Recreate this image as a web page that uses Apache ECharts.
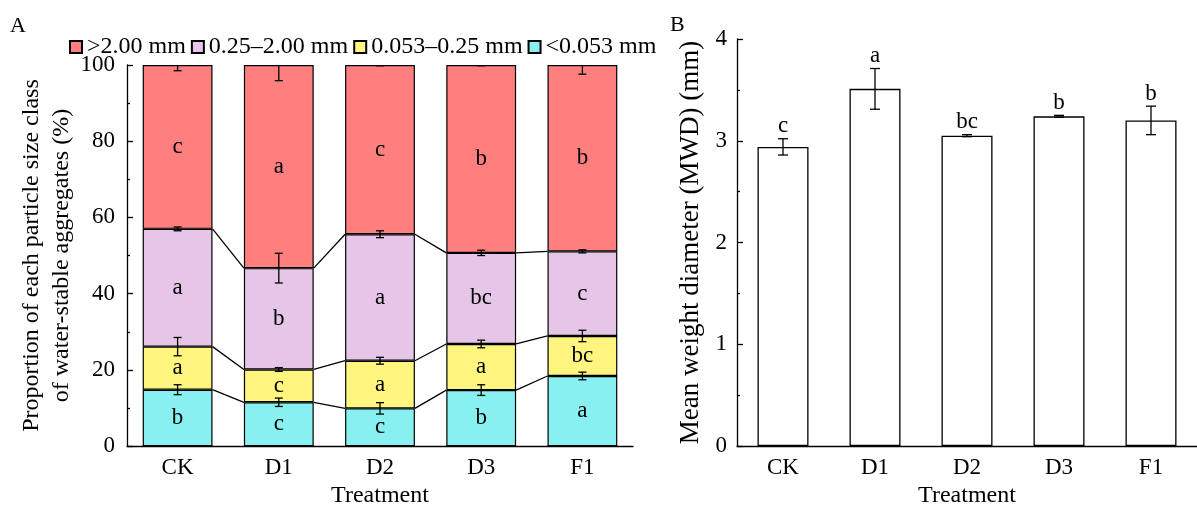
<!DOCTYPE html>
<html><head><meta charset="utf-8">
<script src="https://cdn.jsdelivr.net/npm/echarts@6/dist/echarts.min.js"></script>
<style>html,body{margin:0;padding:0;background:#fff}#c{width:1197px;height:513px}</style>
</head><body><div id="c"></div>
<script>
// ---------- data ----------
const categories = ['CK', 'D1', 'D2', 'D3', 'F1'];
const seriesNames = ['>2.00 mm', '0.25\u20132.00 mm', '0.053\u20130.25 mm', '<0.053 mm'];

// stacked proportions (%), bottom to top
const silt      = [14.8, 11.5,  9.9, 14.7, 18.4];   // <0.053 mm
const fine      = [11.3,  8.6, 12.5, 12.1, 10.5];   // 0.053–0.25 mm
const smallMac  = [30.9, 26.6, 33.2, 23.9, 22.2];   // 0.25–2.00 mm
const largeMac  = [43.0, 53.3, 44.4, 49.3, 48.9];   // >2.00 mm

const siltErr     = [1.3, 1.1, 1.5, 1.4, 1.0];
const fineErr     = [2.4, 0.5, 0.9, 1.0, 1.5];
const smallMacErr = [0.5, 3.9, 0.9, 0.7, 0.4];
const largeMacErr = [1.5, 4.1, 0.2, 0.2, 2.4];

const siltLetters     = ['b', 'c', 'c', 'b', 'a'];
const fineLetters     = ['a', 'c', 'a', 'a', 'bc'];
const smallMacLetters = ['a', 'b', 'a', 'bc', 'c'];
const largeMacLetters = ['c', 'a', 'c', 'b', 'b'];

// panel B
const mwd        = [2.94, 3.51, 3.05, 3.24, 3.20];
const mwdErr     = [0.08, 0.20, 0.01, 0.01, 0.14];
const mwdLetters = ['c', 'a', 'bc', 'b', 'b'];

const yTicksA = { min: 0, max: 100, interval: 20 };
const yTicksB = { min: 0, max: 4, interval: 1 };

// ---------- styling ----------
const FONT = 'Liberation Serif';
const FS = 23;
const colors = { large: '#FF7F7F', small: '#E6C6E8', fine: '#FFF57F', silt: '#88F0F0' };
const BLACK = '#000';
const BAR_RATIO = 0.69;

// cumulative tops
const cum1 = silt.map((v, i) => v);
const cum2 = silt.map((v, i) => v + fine[i]);
const cum3 = silt.map((v, i) => v + fine[i] + smallMac[i]);
const cum4 = silt.map((v, i) => v + fine[i] + smallMac[i] + largeMac[i]);

const errDataA = [];
[[cum1, siltErr], [cum2, fineErr], [cum3, smallMacErr], [cum4, largeMacErr]].forEach(([c, e]) => {
  c.forEach((v, i) => errDataA.push([i, v, e[i]]));
});

const linkData = [];
for (let i = 0; i < categories.length - 1; i++) {
  linkData.push([i, cum1[i], cum1[i + 1], cum2[i], cum2[i + 1], cum3[i], cum3[i + 1]]);
}

function errRender(capW) {
  return function (params, api) {
    const x = api.value(0), y = api.value(1), e = api.value(2);
    const top = api.coord([x, y + e]), bot = api.coord([x, y - e]);
    const cx = top[0];
    const st = { stroke: BLACK, lineWidth: 1.3 };
    return { type: 'group', children: [
      { type: 'line', shape: { x1: cx, y1: top[1], x2: cx, y2: bot[1] }, style: st },
      { type: 'line', shape: { x1: cx - capW, y1: top[1], x2: cx + capW, y2: top[1] }, style: st },
      { type: 'line', shape: { x1: cx - capW, y1: bot[1], x2: cx + capW, y2: bot[1] }, style: st }
    ]};
  };
}

function linkRender(params, api) {
  const i = api.value(0);
  const band = api.size([1, 0])[0];
  const hw = band * BAR_RATIO / 2;
  const xL = api.coord([i, 0])[0] + hw;
  const xR = api.coord([i + 1, 0])[0] - hw;
  const children = [];
  for (let k = 0; k < 3; k++) {
    const a = api.coord([i, api.value(1 + 2 * k)])[1];
    const b = api.coord([i + 1, api.value(2 + 2 * k)])[1];
    children.push({ type: 'line', shape: { x1: xL, y1: a, x2: xR, y2: b }, style: { stroke: BLACK, lineWidth: 1.3 } });
  }
  return { type: 'group', children };
}

function barSeries(name, data, letters, color) {
  return {
    name, type: 'bar', stack: 'A', xAxisIndex: 0, yAxisIndex: 0,
    data, barWidth: (BAR_RATIO * 100) + '%',
    itemStyle: { color, borderColor: BLACK, borderWidth: 1.2 },
    label: { show: true, position: 'inside', formatter: p => letters[p.dataIndex],
             fontFamily: FONT, fontSize: FS, color: BLACK },
    emphasis: { disabled: true }, animation: false
  };
}

const axisLineStyle = { color: BLACK, width: 1.3 };
const labelStyle = { fontFamily: FONT, fontSize: FS, color: BLACK };

function catAxis(gridIndex) {
  return {
    gridIndex, type: 'category', data: categories, boundaryGap: true,
    axisLine: { show: true, lineStyle: axisLineStyle },
    axisTick: { show: true, inside: true, alignWithLabel: true, length: 6, lineStyle: axisLineStyle },
    axisLabel: Object.assign({ margin: 10 }, labelStyle),
    name: 'Treatment', nameLocation: 'middle', nameGap: 37,
    nameTextStyle: Object.assign({}, labelStyle, { fontSize: 24 })
  };
}
function valAxis(gridIndex, t, name, nameGap, margin, nameSize) {
  return {
    gridIndex, type: 'value', min: t.min, max: t.max, interval: t.interval,
    axisLine: { show: true, lineStyle: axisLineStyle },
    axisTick: { show: true, inside: true, length: 6, lineStyle: axisLineStyle },
    minorTick: { show: true, splitNumber: 2, length: 3, lineStyle: axisLineStyle },
    splitLine: { show: false },
    axisLabel: Object.assign({ margin }, labelStyle),
    name, nameLocation: 'middle', nameGap, nameRotate: 90,
    nameTextStyle: Object.assign({}, labelStyle, { lineHeight: 30, align: 'center', fontSize: nameSize })
  };
}

const chart = echarts.init(document.getElementById('c'));
chart.setOption({
  animation: false,
  backgroundColor: '#fff',
  textStyle: { fontFamily: FONT },
  graphic: [
    { type: 'text', left: 10, top: 15, style: { text: 'A', font: '22px "Liberation Serif"', fill: BLACK } },
    { type: 'text', left: 670, top: 14, style: { text: 'B', font: '22px "Liberation Serif"', fill: BLACK } }
  ],
  legend: {
    data: seriesNames, left: 64, top: 30, itemWidth: 12, itemHeight: 12, itemGap: 5,
    icon: 'rect', selectedMode: false,
    textStyle: { fontFamily: FONT, fontSize: 24, color: BLACK }
  },
  grid: [
    { left: 127, top: 65, width: 506, height: 388 },
    { left: 737, top: 39, width: 465, height: 413.5 }
  ],
  xAxis: [catAxis(0), catAxis(1)],
  yAxis: [
    valAxis(0, yTicksA, 'Proportion of each particle size class\nof water-stable aggregates (%)', 41, 12, 24),
    valAxis(1, yTicksB, 'Mean weight diameter (MWD) (mm)', 31, 10, 27)
  ],
  series: [
    barSeries(seriesNames[3], silt, siltLetters, colors.silt),
    barSeries(seriesNames[2], fine, fineLetters, colors.fine),
    barSeries(seriesNames[1], smallMac, smallMacLetters, colors.small),
    barSeries(seriesNames[0], largeMac, largeMacLetters, colors.large),
    { name: 'linksA', type: 'custom', xAxisIndex: 0, yAxisIndex: 0, data: linkData,
      renderItem: linkRender, encode: { x: 0, y: [1, 2, 3, 4, 5, 6] }, z: 5, silent: true },
    { name: 'errA', type: 'custom', xAxisIndex: 0, yAxisIndex: 0, data: errDataA,
      renderItem: errRender(4), encode: { x: 0, y: 1 }, clip: true, z: 6, silent: true },
    { name: 'MWD', type: 'bar', xAxisIndex: 1, yAxisIndex: 1, data: mwd, barWidth: 51,
      itemStyle: { color: '#fff', borderColor: BLACK, borderWidth: 1.3 }, emphasis: { disabled: true } },
    { name: 'errB', type: 'custom', xAxisIndex: 1, yAxisIndex: 1,
      data: mwd.map((v, i) => [i, v, mwdErr[i]]),
      encode: { x: 0, y: 1 }, z: 6, silent: true,
      renderItem: function (params, api) {
        const g = errRender(5)(params, api);
        const x = api.value(0), y = api.value(1), e = api.value(2);
        const top = api.coord([x, y + e]);
        g.children.push({ type: 'text', x: top[0], y: top[1] - 1,
          style: { text: mwdLetters[params.dataIndex], font: FS + 'px "Liberation Serif"', fill: BLACK,
                   textAlign: 'center', textVerticalAlign: 'bottom' } });
        return g;
      } }
  ]
});
</script>
</body></html>
